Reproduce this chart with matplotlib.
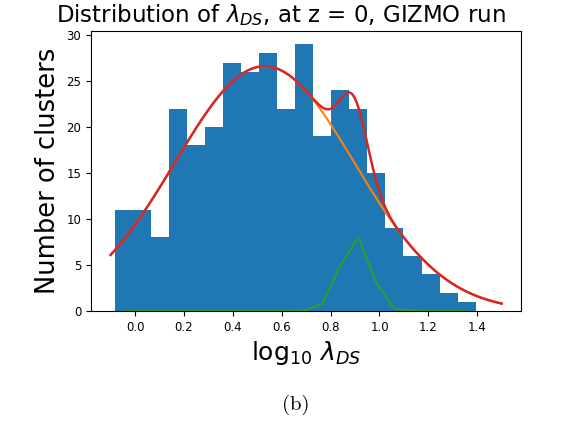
import numpy as np
import matplotlib.pyplot as plt

# histogram of log10(lambda_DS), 20 equal bins
bin_lo, bin_hi = -0.081, 1.393
counts = [11, 11, 8, 22, 18, 20, 27, 26, 28, 22,
          29, 19, 24, 22, 15, 9, 6, 4, 2, 1]

# fitted components: broad gaussian + narrow bump
broad_amp, broad_mu, broad_sig = 26.6, 0.53, 0.367
narrow_amp, narrow_mu, narrow_sig = 7.1, 0.895, 0.056

# second population, evaluated at the bin centres
sub_counts = [0, 0, 0, 0, 0, 0, 0, 0, 0, 0,
              0.05, 0.8, 5.0, 8.0, 3.0, 0.25, 0.03, 0, 0, 0]

fit_lo, fit_hi = -0.1, 1.5


def gauss(x, a, mu, sig):
    return a * np.exp(-(x - mu) ** 2 / (2 * sig ** 2))


edges = np.linspace(bin_lo, bin_hi, len(counts) + 1)
centres = 0.5 * (edges[:-1] + edges[1:])
xs = np.linspace(fit_lo, fit_hi, 400)
broad = gauss(xs, broad_amp, broad_mu, broad_sig)
total = broad + gauss(xs, narrow_amp, narrow_mu, narrow_sig)

fig = plt.figure(figsize=(5.76, 4.22), dpi=100)
ax = fig.add_axes([0.158, 0.263, 0.747, 0.664])

ax.bar(edges[:-1], counts, width=np.diff(edges), align='edge', color='C0')
ax.plot(xs, broad, color='C1')
ax.plot(centres, sub_counts, color='C2')
ax.plot(xs, total, color='C3', lw=1.8)

ax.set_xticks([0.0, 0.2, 0.4, 0.6, 0.8, 1.0, 1.2, 1.4])
ax.tick_params(labelsize=8.5)
ax.set_title(r'Distribution of $\lambda_{DS}$, at z = 0, GIZMO run', fontsize=16.5, x=0.44)
ax.set_xlabel(r'log$_{10}$ $\lambda_{DS}$', fontsize=18)
ax.set_ylabel('Number of clusters', fontsize=18.5)

fig.text(0.514, 0.040, '(b)', ha='center', va='center', fontsize=15, family='cmr10')

fig.savefig('out.png', dpi=100)
